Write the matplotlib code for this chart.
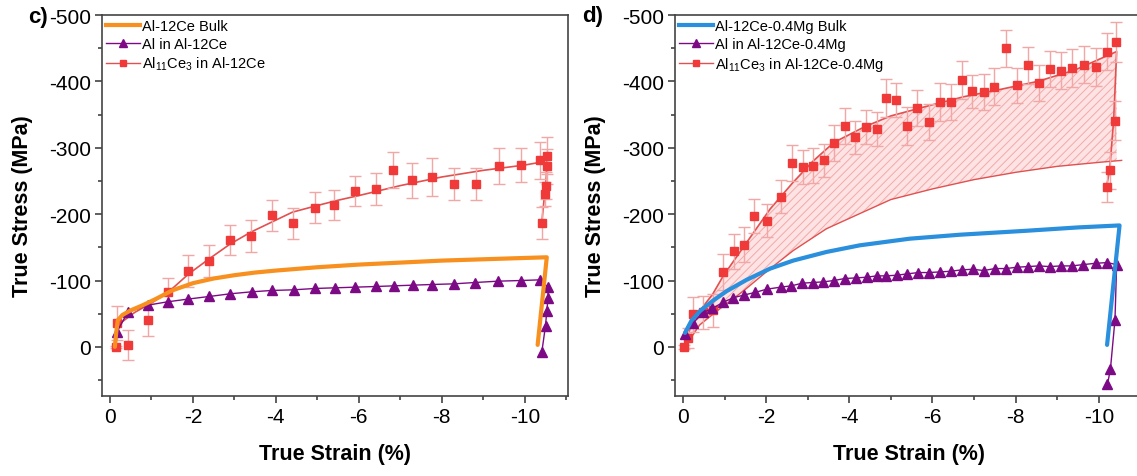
import numpy as np
import matplotlib
matplotlib.use("Agg")
import matplotlib.pyplot as plt
from matplotlib.lines import Line2D

plt.rcParams['font.family'] = ['Liberation Sans', 'DejaVu Sans']
plt.rcParams['mathtext.fontset'] = 'custom'
plt.rcParams['mathtext.rm'] = 'Liberation Sans'
plt.rcParams['mathtext.default'] = 'regular'
plt.rcParams['axes.unicode_minus'] = False
plt.rcParams['hatch.linewidth'] = 0.7

# ---------------- panel c: Al-12Ce ----------------
c_bulk_strain = [-0.12, -0.15, -0.19, -0.3, -0.5, -0.8, -1.1, -1.5, -2.0, -2.5, -3.0, -3.5,
                 -4.0, -5.0, -6.0, -7.0, -8.0, -9.0, -10.0, -10.53, -10.31]
c_bulk_stress = [0, -20, -40, -48, -55, -63, -72, -85, -96, -103, -108, -112,
                 -115, -120, -124, -127, -130, -132, -134, -135, -3]

c_al_strain = [-0.17, -0.43, -0.92, -1.4, -1.88, -2.4, -2.9, -3.42, -3.9, -4.43, -4.94,
               -5.42, -5.92, -6.42, -6.85, -7.3, -7.76, -8.29, -8.8, -9.35, -9.9, -10.36,
               -10.56, -10.56, -10.53, -10.5, -10.41]
c_al_stress = [-23, -52, -63, -68, -72, -76, -80, -83, -85, -86, -88,
               -89, -90, -91, -92, -93, -94, -95, -97, -99, -100, -101,
               -90, -73, -54, -32, 8]

c_ce_strain = [-0.14, -0.17, -0.43, -0.92, -1.4, -1.89, -2.39, -2.9, -3.41, -3.9, -4.42,
               -4.94, -5.4, -5.9, -6.41, -6.83, -7.28, -7.76, -8.3, -8.82, -9.37, -9.9,
               -10.36, -10.53, -10.53, -10.52, -10.48, -10.41]
c_ce_stress = [0, -36, -3, -40, -82, -114, -130, -161, -167, -198, -186,
               -210, -214, -235, -238, -266, -251, -256, -245, -245, -273, -274,
               -281, -288, -272, -243, -230, -187]
c_ce_err = [2, 25, 22, 24, 22, 24, 24, 23, 24, 24, 24,
            23, 23, 22, 24, 27, 26, 28, 24, 24, 27, 26,
            28, 28, 26, 20, 18, 24]

c_fit_strain = [-0.14, -0.18, -0.3, -0.6, -1.0, -1.4, -1.9, -2.4, -2.9, -3.4, -3.9, -4.4,
                -5.0, -5.5, -6.0, -7.0, -8.0, -9.0, -10.0, -10.36, -10.53, -10.52, -10.48, -10.41]
c_fit_stress = [0, -25, -38, -52, -66, -82, -110, -133, -155, -173, -188, -203,
                -213, -221, -228, -243, -256, -266, -274, -278, -286, -258, -232, -187]

# ---------------- panel d: Al-12Ce-0.4Mg ----------------
d_bulk_strain = [-0.05, -0.2, -0.41, -0.73, -1.05, -1.53, -2.1, -2.65, -3.45, -4.25, -5.45,
                 -6.66, -8.27, -9.5, -10.5, -10.2]
d_bulk_stress = [-21, -39, -54, -70, -84, -101, -118, -130, -143, -153, -163,
                 -169, -175, -180, -183, -3]

d_al_strain = [-0.05, -0.24, -0.49, -0.71, -0.96, -1.21, -1.46, -1.73, -2.02, -2.35, -2.61,
               -2.87, -3.12, -3.38, -3.63, -3.89, -4.17, -4.42, -4.66, -4.88, -5.15, -5.39,
               -5.66, -5.91, -6.19, -6.44, -6.7, -6.97, -7.23, -7.5, -7.76, -8.03, -8.29,
               -8.56, -8.82, -9.09, -9.35, -9.63, -9.93, -10.2, -10.43, -10.39, -10.28, -10.21]
d_al_stress = [-20, -36, -52, -58, -67, -74, -78, -82, -87, -90, -92,
               -96, -97, -98, -100, -103, -104, -105, -107, -107, -108, -110,
               -112, -112, -113, -114, -116, -117, -115, -118, -118, -120, -121,
               -122, -121, -122, -122, -124, -126, -127, -124, -41, 34, 56]

d_ce_strain = [-0.02, -0.12, -0.24, -0.48, -0.72, -0.97, -1.22, -1.47, -1.71, -2.02, -2.36,
               -2.62, -2.88, -3.12, -3.39, -3.63, -3.9, -4.14, -4.4, -4.66, -4.88, -5.12,
               -5.39, -5.64, -5.91, -6.18, -6.44, -6.7, -6.95, -7.23, -7.49, -7.76, -8.03,
               -8.29, -8.56, -8.82, -9.09, -9.35, -9.64, -9.93, -10.19, -10.41, -10.39, -10.26, -10.19]
d_ce_stress = [0, -13, -49, -52, -55, -113, -144, -154, -197, -190, -226,
               -277, -271, -273, -281, -307, -333, -316, -331, -328, -375, -372,
               -333, -360, -339, -369, -369, -402, -385, -384, -392, -450, -394,
               -424, -398, -419, -416, -420, -425, -422, -445, -459, -341, -266, -241]
d_ce_err = [3, 15, 26, 25, 25, 27, 26, 26, 26, 25, 25,
            27, 26, 26, 25, 27, 27, 25, 26, 26, 28, 26,
            29, 27, 27, 28, 27, 28, 25, 27, 28, 28, 26,
            28, 27, 27, 28, 29, 28, 29, 28, 30, 30, 28, 22]

d_fit_strain = [-0.02, -0.12, -0.24, -0.5, -0.72, -0.97, -1.45, -2.1, -2.65, -3.13, -3.63,
                -4.38, -5.0, -5.89, -6.76, -7.64, -8.53, -9.42, -10.43, -10.36, -10.26, -10.19]
d_fit_stress = [0, -18, -40, -62, -80, -107, -150, -208, -248, -280, -308,
                -332, -348, -363, -377, -388, -400, -417, -445, -343, -265, -243]

# lower bound of shaded band (Al11Ce3 fit from Al-12Ce)
d_low_strain = [-0.05, -0.4, -0.9, -1.45, -2.1, -2.65, -3.45, -4.4, -5.0, -6.0, -7.0,
                -8.0, -9.0, -10.0, -10.55]
d_low_stress = [0, -33, -58, -84, -118, -145, -178, -205, -222, -238, -252,
                -263, -272, -278, -281]

orange = '#f7901e'
blue = '#2a8fdc'
purple = '#7d0a85'
red = '#f03a3a'
red_line = '#e2504f'
err_red = '#f2a6a6'

fig = plt.figure(figsize=(11.37, 4.77), dpi=100)
ax_c = fig.add_axes([0.0897, 0.1677, 0.4098, 0.7987])
ax_d = fig.add_axes([0.5937, 0.1677, 0.4107, 0.7987])


def draw_panel(ax, bulk_x, bulk_y, bulk_color, al_x, al_y, ce_x, ce_y, ce_err, fit_x, fit_y, names):
    ax.plot(fit_x, fit_y, color=red_line, lw=1.2, zorder=3)
    ax.errorbar(ce_x, ce_y, yerr=ce_err, fmt='s', ms=6, color=red, ecolor=err_red,
                elinewidth=1.0, capsize=4, capthick=1.0, zorder=4)
    ax.errorbar(al_x, al_y, yerr=4, fmt='^-', ms=7, lw=1.0, color=purple, mec=purple,
                ecolor='#d58fd8', elinewidth=0.8, capsize=0, zorder=5)
    ax.plot(bulk_x, bulk_y, color=bulk_color, lw=3, solid_capstyle='round', zorder=6)

    handles = [Line2D([], [], color=bulk_color, lw=3),
               Line2D([], [], color=purple, lw=1, marker='^', ms=6),
               Line2D([], [], color=red_line, lw=1, marker='s', ms=5, mfc=red, mec=red)]
    ax.legend(handles, names, loc='upper left', frameon=False, fontsize=10.5,
              handlelength=2.3, handletextpad=0.15, labelspacing=0.25,
              borderaxespad=0.1, borderpad=0.2)

    ax.set_xlim(0.19, -11.04)
    ax.set_ylim(74, -500)
    ax.set_xticks(np.arange(0, -11, -2))
    ax.set_xticks(np.arange(-1, -12, -2), minor=True)
    ax.set_yticks(np.arange(-500, 1, 100))
    ax.set_yticks(np.arange(-450, 51, 100), minor=True)
    ax.tick_params(which='major', direction='out', length=5, width=1.1, labelsize=15,
                   pad=3, colors='#333333', labelcolor='black')
    ax.tick_params(which='minor', direction='out', length=3, width=1.1, colors='#333333')
    for s in ax.spines.values():
        s.set_color('#444444')
        s.set_linewidth(1.2)
    ax.set_xlabel('True Strain (%)', fontsize=15.5, fontweight='bold', labelpad=12)
    ax.set_ylabel('True Stress (MPa)', fontsize=15.5, fontweight='bold')
    ax.yaxis.set_label_coords(-0.148, 0.5)


draw_panel(ax_c, c_bulk_strain, c_bulk_stress, orange, c_al_strain, c_al_stress,
           c_ce_strain, c_ce_stress, c_ce_err, c_fit_strain, c_fit_stress,
           ['Al-12Ce Bulk', 'Al in Al-12Ce', 'Al$_{11}$Ce$_{3}$ in Al-12Ce'])

# shaded band between the two Al11Ce3 fits in panel d
band_x = np.array(d_fit_strain[:19])
band_hi = np.array(d_fit_stress[:19])
band_lo = np.interp(-band_x, -np.array(d_low_strain), np.array(d_low_stress))
ax_d.fill_between(band_x, band_hi, band_lo, facecolor='#fde3e3', edgecolor='#f4a9a9',
                  hatch='////', linewidth=0, zorder=1)
ax_d.plot(d_low_strain, d_low_stress, color=red_line, lw=1.0, zorder=2)

draw_panel(ax_d, d_bulk_strain, d_bulk_stress, blue, d_al_strain, d_al_stress,
           d_ce_strain, d_ce_stress, d_ce_err, d_fit_strain, d_fit_stress,
           ['Al-12Ce-0.4Mg Bulk', 'Al in Al-12Ce-0.4Mg', 'Al$_{11}$Ce$_{3}$ in Al-12Ce-0.4Mg'])

fig.text(0.025, 0.964, 'c)', fontsize=16, fontweight='bold', va='center')
fig.text(0.512, 0.966, 'd)', fontsize=16, fontweight='bold', va='center')

fig.savefig('out.png', dpi=100)
